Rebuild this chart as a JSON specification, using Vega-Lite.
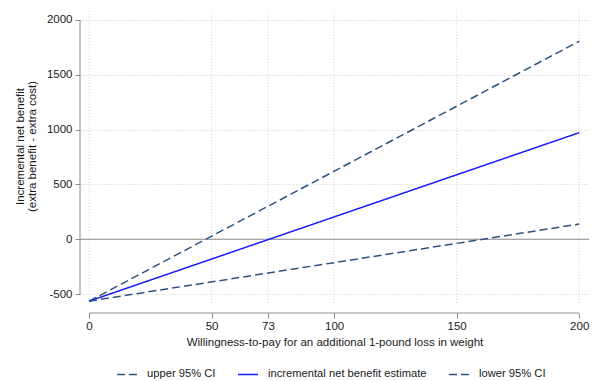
{
  "$schema": "https://vega.github.io/schema/vega-lite/v6.json",
  "width": 509,
  "height": 303,
  "autosize": {"type": "none"},
  "padding": {"left": 80, "top": 10, "right": 10, "bottom": 68},
  "background": "white",
  "config": {
    "font": "Liberation Sans",
    "view": {"stroke": null},
    "axis": {"labelFont": "Liberation Sans", "titleFont": "Liberation Sans", "labelFontSize": 11.5, "titleFontSize": 11.5, "labelColor": "#1a1a1a", "titleColor": "#1a1a1a", "titleFontWeight": "normal"}
  },
  "datasets": {
    "lines": [
      {"wtp": 0, "inb": -565, "series": "upper 95% CI"},
      {"wtp": 200, "inb": 1806, "series": "upper 95% CI"},
      {"wtp": 0, "inb": -565, "series": "incremental net benefit estimate"},
      {"wtp": 200, "inb": 972, "series": "incremental net benefit estimate"},
      {"wtp": 0, "inb": -565, "series": "lower 95% CI"},
      {"wtp": 200, "inb": 138, "series": "lower 95% CI"}
    ],
    "xgrid": [{"v": 0}, {"v": 50}, {"v": 73}, {"v": 100}, {"v": 150}, {"v": 200}]
  },
  "layer": [
    {
      "data": {"name": "xgrid"},
      "mark": {"type": "rule", "color": "#cfcfcf", "strokeDash": [1, 2], "strokeWidth": 1},
      "encoding": {
        "x": {
          "field": "v", "type": "quantitative",
          "scale": {"domain": [-3.7, 204], "nice": false, "zero": false},
          "axis": {
            "title": "Willingness-to-pay for an additional 1-pound loss in weight",
            "values": [0, 50, 73, 100, 150, 200],
            "labelExpr": "datum.value + ''",
            "domain": false, "grid": false,
            "tickColor": "#8c8c8c", "tickSize": 5,
            "labelPadding": 2, "labelBaseline": "top",
            "titleY": 29, "titleBaseline": "middle"
          }
        },
        "y": {
          "datum": -580, "type": "quantitative",
          "scale": {"domain": [-673, 2091], "nice": false, "zero": false},
          "axis": {
            "title": ["Incremental net benefit", "(extra benefit - extra cost)"],
            "values": [-500, 0, 500, 1000, 1500, 2000],
            "labelExpr": "datum.value + ''",
            "domain": false, "grid": true,
            "gridColor": "#cfcfcf", "gridDash": [1, 2],
            "tickColor": "#8c8c8c", "tickSize": 5,
            "labelPadding": 3,
            "titleX": -60, "titleY": 136, "titleAlign": "center", "titleBaseline": "middle", "titleAngle": -90, "titleLineHeight": 12
          }
        },
        "y2": {"datum": 2091}
      }
    },
    {
      "data": {"values": [{"z": 0}]},
      "mark": {"type": "rule", "color": "#8c8c8c", "strokeWidth": 1},
      "encoding": {
        "y": {"field": "z", "type": "quantitative"}
      }
    },
    {
      "data": {"values": [{"ax": -3.7, "lo": -500, "hi": 2000}]},
      "mark": {"type": "rule", "color": "#8c8c8c", "strokeWidth": 1},
      "encoding": {
        "x": {"field": "ax", "type": "quantitative"},
        "y": {"field": "lo", "type": "quantitative"},
        "y2": {"field": "hi"}
      }
    },
    {
      "data": {"values": [{"ay": -673, "lo": 0, "hi": 200}]},
      "mark": {"type": "rule", "color": "#8c8c8c", "strokeWidth": 1},
      "encoding": {
        "y": {"field": "ay", "type": "quantitative"},
        "x": {"field": "lo", "type": "quantitative"},
        "x2": {"field": "hi"}
      }
    },
    {
      "data": {"name": "lines"},
      "mark": {"type": "line", "strokeWidth": 1.5},
      "encoding": {
        "x": {"field": "wtp", "type": "quantitative"},
        "y": {"field": "inb", "type": "quantitative"},
        "color": {
          "field": "series", "type": "nominal",
          "scale": {"domain": ["upper 95% CI", "incremental net benefit estimate", "lower 95% CI"], "range": ["#2d5480", "#1a1aff", "#2d5480"]},
          "legend": {
            "title": null, "orient": "none", "direction": "horizontal",
            "legendX": 36, "legendY": 353,
            "symbolType": "stroke", "symbolSize": 400, "symbolStrokeWidth": 1.5,
            "labelFontSize": 11.2, "labelFont": "Liberation Sans", "labelColor": "#1a1a1a",
            "labelLimit": 400,
            "labelOffset": 9, "columnPadding": 19
          }
        },
        "strokeDash": {
          "field": "series", "type": "nominal",
          "scale": {"domain": ["upper 95% CI", "incremental net benefit estimate", "lower 95% CI"], "range": [[8, 4], [1, 0], [8, 4]]},
          "legend": null
        }
      }
    }
  ]
}
